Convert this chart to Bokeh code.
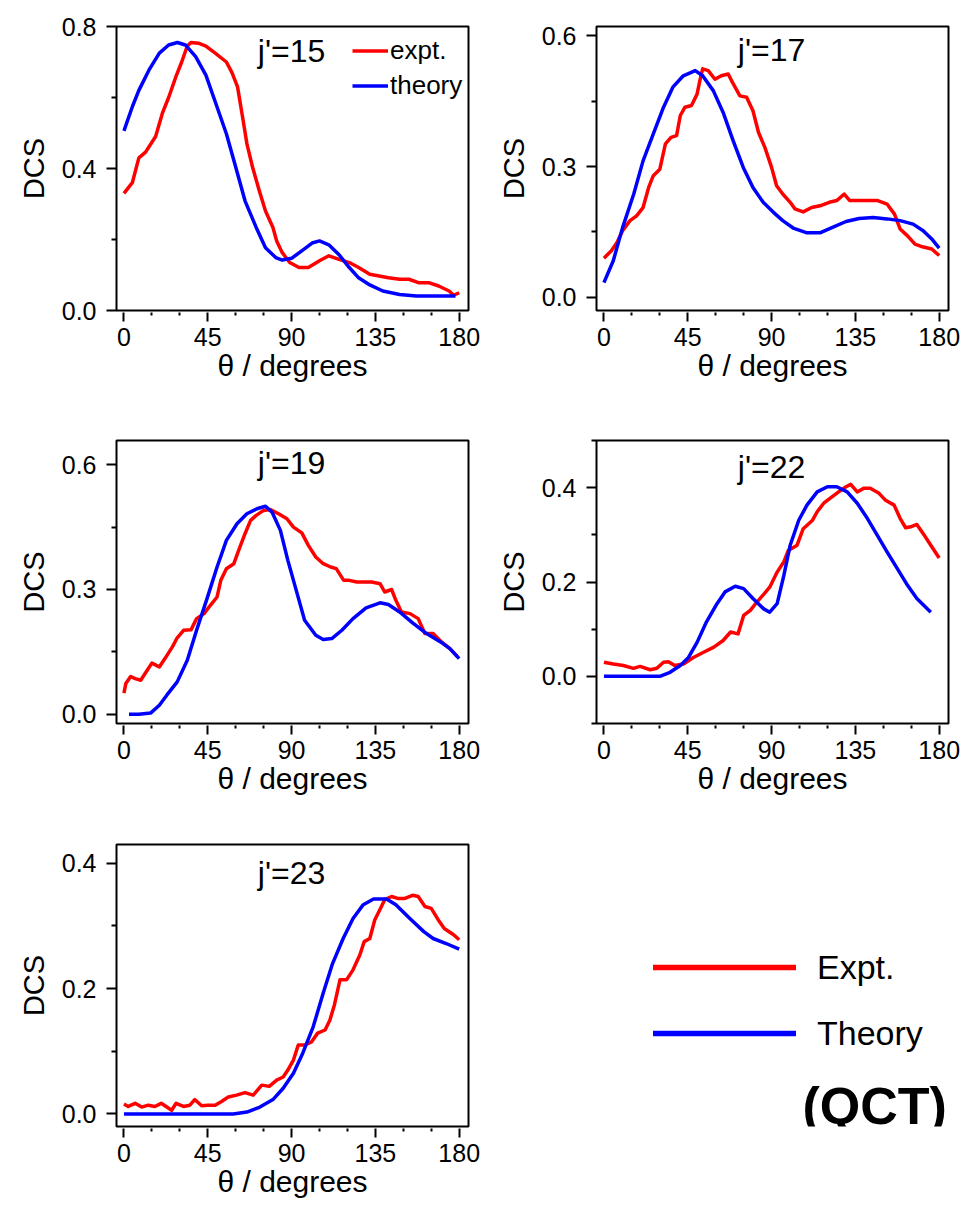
from bokeh.plotting import figure
from bokeh.layouts import row, column
from bokeh.models import (Range1d, FixedTicker, PrintfTickFormatter, Label,
                          Legend, LegendItem)
from bokeh.embed import file_html
from bokeh.resources import INLINE

FONT = "Liberation Sans"
RED = "#ff0000"
BLUE = "#0000ff"

# ---------------- data ----------------
x_major = [0, 45, 90, 135, 180]
x_minor = [15, 30, 60, 75, 105, 120, 150, 165]

# j'=15
j15_exp_theta = [0, 4.5, 8, 11.6, 17, 20.6, 24, 28, 31, 34, 36, 40, 44, 49, 55, 58, 61, 64, 66, 69,
                 72.5, 76, 80, 82, 85, 89, 94, 99, 105, 110, 115.5, 121, 126, 132, 137, 142, 148,
                 153, 158.5, 164, 169, 174.6, 177, 180]
j15_exp_dcs = [0.33, 0.36, 0.43, 0.446, 0.49, 0.555, 0.60, 0.66, 0.70, 0.745, 0.755, 0.753, 0.745,
               0.725, 0.70, 0.67, 0.63, 0.535, 0.47, 0.405, 0.34, 0.28, 0.234, 0.196, 0.163, 0.135,
               0.121, 0.121, 0.14, 0.154, 0.144, 0.135, 0.121, 0.102, 0.097, 0.092, 0.088, 0.088,
               0.078, 0.078, 0.069, 0.055, 0.043, 0.05]
j15_th_theta = [0, 4.5, 8, 13.4, 19, 24, 28.7, 33, 38.5, 44, 49, 55, 60, 65, 71, 76, 81.5, 85, 90,
                96, 101, 105, 110, 115.5, 121, 126, 132, 139, 148, 157, 166, 178]
j15_th_dcs = [0.506, 0.574, 0.62, 0.677, 0.725, 0.748, 0.755, 0.748, 0.715, 0.663, 0.588, 0.498,
              0.404, 0.309, 0.234, 0.177, 0.149, 0.142, 0.147, 0.17, 0.19, 0.196, 0.185, 0.157,
              0.121, 0.092, 0.072, 0.055, 0.045, 0.041, 0.041, 0.041]

# j'=17
j17_exp_theta = [0, 4, 7, 10, 14, 17.5, 21, 24, 26.5, 30, 33, 36, 39, 41, 43.5, 47, 50, 51.5, 53,
                 56, 59.6, 63, 66.7, 69, 73, 76.6, 80, 83, 86.4, 90, 92.7, 96, 100, 102.5, 107,
                 111.5, 116, 121, 125, 129, 132, 137, 143, 147, 152, 156, 159, 163, 167, 171, 176,
                 180]
j17_exp_dcs = [0.09, 0.107, 0.126, 0.153, 0.176, 0.187, 0.206, 0.252, 0.279, 0.294, 0.352, 0.367,
               0.371, 0.417, 0.436, 0.44, 0.466, 0.497, 0.524, 0.52, 0.50, 0.508, 0.512, 0.493,
               0.462, 0.459, 0.428, 0.378, 0.344, 0.298, 0.256, 0.237, 0.218, 0.203, 0.196, 0.206,
               0.21, 0.218, 0.222, 0.237, 0.222, 0.222, 0.222, 0.222, 0.214, 0.191, 0.157, 0.141,
               0.122, 0.116, 0.111, 0.096]
j17_th_theta = [0, 5, 10, 16, 21, 26.5, 32, 37, 42.6, 49, 53, 58.7, 64, 69.4, 74.8, 80, 85.5, 91,
                96, 101.6, 109, 116, 123, 130, 137, 144.6, 152, 159, 166, 171.4, 176, 180]
j17_th_dcs = [0.034, 0.084, 0.16, 0.237, 0.313, 0.375, 0.436, 0.482, 0.508, 0.52, 0.508, 0.474,
              0.424, 0.359, 0.298, 0.252, 0.218, 0.195, 0.176, 0.159, 0.148, 0.148, 0.161, 0.174,
              0.181, 0.183, 0.18, 0.176, 0.168, 0.153, 0.134, 0.113]

# j'=19
j19_exp_theta = [0, 1, 3.6, 6, 9, 12.5, 15, 19, 22, 26, 28.6, 32, 36, 39, 43, 46.4, 50, 52, 55, 59,
                 61.6, 65, 68, 71, 75, 78.6, 83, 87.5, 91, 95.5, 99, 103, 107, 111, 114, 118, 121,
                 125, 128.6, 133, 137.5, 140, 143.7, 146, 149, 153.6, 158, 161.6, 166, 170.5, 175,
                 179]
j19_exp_dcs = [0.051, 0.074, 0.091, 0.086, 0.082, 0.106, 0.123, 0.114, 0.134, 0.162, 0.184, 0.202,
               0.203, 0.23, 0.242, 0.262, 0.282, 0.322, 0.35, 0.362, 0.394, 0.434, 0.466, 0.478,
               0.49, 0.492, 0.482, 0.47, 0.45, 0.436, 0.406, 0.378, 0.362, 0.354, 0.35, 0.322,
               0.322, 0.318, 0.318, 0.318, 0.314, 0.294, 0.30, 0.274, 0.246, 0.242, 0.23, 0.194,
               0.194, 0.174, 0.158, 0.139]
j19_th_theta = [2.7, 8, 14.3, 19, 23, 28.6, 34, 39, 44.6, 50, 55, 60.7, 66, 71.4, 76, 79.5, 84, 88,
                93, 97, 103, 107, 111.6, 117, 123, 130, 137.5, 142, 148, 155, 162.5, 170, 175, 180]
j19_th_dcs = [0.0, 0.0, 0.003, 0.022, 0.046, 0.078, 0.13, 0.202, 0.278, 0.354, 0.418, 0.458, 0.482,
              0.494, 0.50, 0.486, 0.442, 0.37, 0.29, 0.226, 0.19, 0.18, 0.182, 0.202, 0.23, 0.256,
              0.268, 0.264, 0.246, 0.22, 0.194, 0.174, 0.158, 0.134]

# j'=22
j22_exp_theta = [0, 5, 10.4, 15.8, 19.4, 24.8, 28.4, 32, 34.6, 38, 42.7, 48, 53.5, 59, 64, 68, 72,
                 75, 78.6, 82, 86, 89, 93, 96.6, 99, 103.7, 107, 112, 114.5, 118, 122.6, 126, 130,
                 132.5, 136, 139.6, 143, 147.7, 151, 155.8, 159, 162, 164.7, 168, 172, 175.5, 180]
j22_exp_dcs = [0.03, 0.026, 0.023, 0.017, 0.021, 0.014, 0.017, 0.03, 0.031, 0.023, 0.026, 0.04,
               0.051, 0.062, 0.076, 0.094, 0.09, 0.129, 0.14, 0.157, 0.175, 0.189, 0.221, 0.243,
               0.267, 0.278, 0.313, 0.331, 0.349, 0.367, 0.381, 0.391, 0.402, 0.407, 0.391, 0.399,
               0.399, 0.388, 0.374, 0.363, 0.335, 0.315, 0.317, 0.322, 0.299, 0.278, 0.251]
j22_th_theta = [0, 15.8, 30, 35.5, 41, 45.4, 50, 55, 60.7, 65, 70.5, 75, 80, 85.8, 89, 93, 96.6,
                100, 104.6, 109, 114.5, 120, 125, 130.6, 136, 141.4, 146.8, 152, 157.6, 163, 168,
                175.5]
j22_th_dcs = [0, 0, 0, 0.0085, 0.023, 0.04, 0.072, 0.115, 0.154, 0.179, 0.191, 0.186, 0.165, 0.143,
              0.136, 0.154, 0.214, 0.278, 0.331, 0.363, 0.391, 0.402, 0.402, 0.391, 0.367, 0.335,
              0.299, 0.264, 0.228, 0.193, 0.165, 0.136]

# j'=23
j23_exp_theta = [0, 2.3, 6, 9.5, 13, 16.6, 20, 23, 25.6, 28, 32, 35.4, 38, 41.7, 45, 49, 52.4, 56,
                 60.5, 65, 69.4, 74, 78, 82, 85.5, 88, 91, 93.6, 97, 100.7, 104, 108, 110.6, 113,
                 116, 119.5, 123, 126.7, 129, 132, 134.7, 137.4, 140, 143.7, 147, 150.8, 155, 158,
                 161.6, 165, 168.7, 172, 177, 180]
j23_exp_dcs = [0.016, 0.012, 0.017, 0.011, 0.014, 0.012, 0.017, 0.011, 0.006, 0.017, 0.012, 0.014,
               0.023, 0.013, 0.014, 0.014, 0.02, 0.027, 0.03, 0.034, 0.03, 0.046, 0.044, 0.054,
               0.059, 0.07, 0.086, 0.11, 0.11, 0.115, 0.129, 0.134, 0.15, 0.174, 0.214, 0.214,
               0.23, 0.254, 0.275, 0.28, 0.31, 0.326, 0.342, 0.347, 0.344, 0.344, 0.349, 0.347,
               0.331, 0.328, 0.31, 0.296, 0.286, 0.278]
j23_th_theta = [0, 33.6, 58.7, 66, 73, 80, 85.5, 91, 96, 101.6, 107, 112, 117.7, 123, 128.5, 134,
                141, 146, 153.5, 161, 166, 173, 180]
j23_th_dcs = [0, 0, 0, 0.003, 0.011, 0.023, 0.041, 0.065, 0.097, 0.139, 0.193, 0.24, 0.28, 0.312,
              0.334, 0.343, 0.343, 0.334, 0.312, 0.291, 0.28, 0.272, 0.263]

panel_labels = ["j'=15", "j'=17", "j'=19", "j'=22", "j'=23"]
legend_small = ["expt.", "theory"]
legend_big = ["Expt.", "Theory"]
note_text = "(QCT)"

LINE_W = 3.5


def make_panel(exp_t, exp_d, th_t, th_d, label, label_y, y_lo, y_hi, y_major, y_minor,
               w, h, bl, br, bt, bb):
    p = figure(width=w, height=h, min_border_left=bl, min_border_right=br,
               min_border_top=bt, min_border_bottom=bb,
               x_range=Range1d(-4, 185), y_range=Range1d(y_lo, y_hi),
               output_backend="svg", toolbar_location=None, tools="")
    p.grid.visible = False
    p.outline_line_color = "black"
    p.outline_line_width = 2
    p.outline_line_alpha = 1
    p.background_fill_color = "white"
    p.border_fill_color = "white"

    rexp = p.line(exp_t, exp_d, line_color=RED, line_width=LINE_W, line_join="round")
    rth = p.line(th_t, th_d, line_color=BLUE, line_width=LINE_W, line_join="round")

    xa = p.xaxis[0]
    xa.ticker = FixedTicker(ticks=x_major, minor_ticks=x_minor)
    xa.axis_line_color = None
    xa.major_tick_in = -2
    xa.major_tick_out = 11
    xa.minor_tick_in = -2
    xa.minor_tick_out = 5
    xa.major_tick_line_width = 2
    xa.minor_tick_line_width = 2
    xa.major_label_standoff = 6
    xa.axis_label = "θ / degrees"
    xa.axis_label_standoff = 0
    xa.axis_label_text_font_size = "30px"

    ya = p.yaxis[0]
    ya.ticker = FixedTicker(ticks=y_major, minor_ticks=y_minor)
    ya.formatter = PrintfTickFormatter(format="%.1f")
    ya.axis_line_color = None
    ya.major_tick_in = 0
    ya.major_tick_out = 10
    ya.minor_tick_in = 0
    ya.minor_tick_out = 5
    ya.major_tick_line_width = 2
    ya.minor_tick_line_width = 2
    ya.major_label_standoff = 10
    ya.axis_label = "DCS"
    ya.axis_label_standoff = 9
    ya.axis_label_text_font_size = "29px"

    for ax in (xa, ya):
        ax.major_label_text_font = FONT
        ax.major_label_text_font_size = "25px"
        ax.major_label_text_color = "black"
        ax.axis_label_text_font = FONT
        ax.axis_label_text_font_style = "normal"
        ax.axis_label_text_color = "black"
        ax.major_tick_line_color = "black"
        ax.minor_tick_line_color = "black"

    p.add_layout(Label(x=90, y=label_y, text=label, text_align="center",
                       text_baseline="middle", text_font=FONT, text_font_size="32px",
                       text_color="black"))
    return p, rexp, rth


LW, RW = 483, 483
H1, H2, H3 = 404, 412, 391

p1, r1e, r1t = make_panel(j15_exp_theta, j15_exp_dcs, j15_th_theta, j15_th_dcs,
                          panel_labels[0], 0.732, 0.0, 0.8, [0.0, 0.4, 0.8], [0.2, 0.6],
                          LW, H1, 116, 15, 26, 94)
leg1 = Legend(items=[LegendItem(label=legend_small[0], renderers=[r1e]),
                     LegendItem(label=legend_small[1], renderers=[r1t])],
              location=(236, 207), orientation="vertical",
              glyph_width=36, glyph_height=35, label_height=35, label_standoff=2,
              spacing=0, padding=0, margin=0,
              border_line_alpha=0, background_fill_alpha=0,
              label_text_font=FONT, label_text_font_size="26px", label_text_color="black")
p1.add_layout(leg1)

p2, _, _ = make_panel(j17_exp_theta, j17_exp_dcs, j17_th_theta, j17_th_dcs,
                      panel_labels[1], 0.568, -0.03, 0.621, [0.0, 0.3, 0.6], [0.15, 0.45],
                      RW, H1, 113, 18, 26, 94)

p3, _, _ = make_panel(j19_exp_theta, j19_exp_dcs, j19_th_theta, j19_th_dcs,
                      panel_labels[2], 0.603, -0.022, 0.658, [0.0, 0.3, 0.6], [0.15, 0.45],
                      LW, H2, 116, 15, 36, 93)

p4, _, _ = make_panel(j22_exp_theta, j22_exp_dcs, j22_th_theta, j22_th_dcs,
                      panel_labels[3], 0.443, -0.1, 0.5, [0.0, 0.2, 0.4], [-0.1, 0.1, 0.3, 0.5],
                      RW, H2, 113, 18, 36, 93)

p5, _, _ = make_panel(j23_exp_theta, j23_exp_dcs, j23_th_theta, j23_th_dcs,
                      panel_labels[4], 0.385, -0.02, 0.43, [0.0, 0.2, 0.4], [0.1, 0.3],
                      LW, H3, 116, 15, 28, 81)

# legend-only area (bottom right); its frame is aligned with p5's frame
FH3 = H3 - 28 - 81
pl = figure(width=RW, height=H3, x_range=Range1d(0, RW), y_range=Range1d(0, FH3),
            x_axis_type=None, y_axis_type=None,
            min_border_left=0, min_border_right=0, min_border_top=28, min_border_bottom=81,
            output_backend="svg", toolbar_location=None, tools="")
pl.grid.visible = False
pl.outline_line_color = None
de = pl.line(x=[-60, -50], y=[-60, -60], line_color=RED, line_width=5.5, line_cap="round")
dt = pl.line(x=[-60, -50], y=[-60, -60], line_color=BLUE, line_width=5.5, line_cap="round")
leg2 = Legend(items=[LegendItem(label=legend_big[0], renderers=[de]),
                     LegendItem(label=legend_big[1], renderers=[dt])],
              location=(170, 60), orientation="vertical",
              glyph_width=143, glyph_height=66, label_height=66, label_standoff=21,
              spacing=0, padding=0, margin=0,
              border_line_alpha=0, background_fill_alpha=0,
              label_text_font=FONT, label_text_font_size="34px", label_text_color="black")
pl.add_layout(leg2)
pl.add_layout(Label(x=319, y=21, text=note_text, text_align="left", text_baseline="middle",
                    text_font=FONT, text_font_size="52px", text_font_style="bold",
                    text_color="black"))

layout = column(row(p1, p2), row(p3, p4), row(p5, pl))

with open("out.html", "w") as f:
    f.write(file_html(layout, INLINE))
